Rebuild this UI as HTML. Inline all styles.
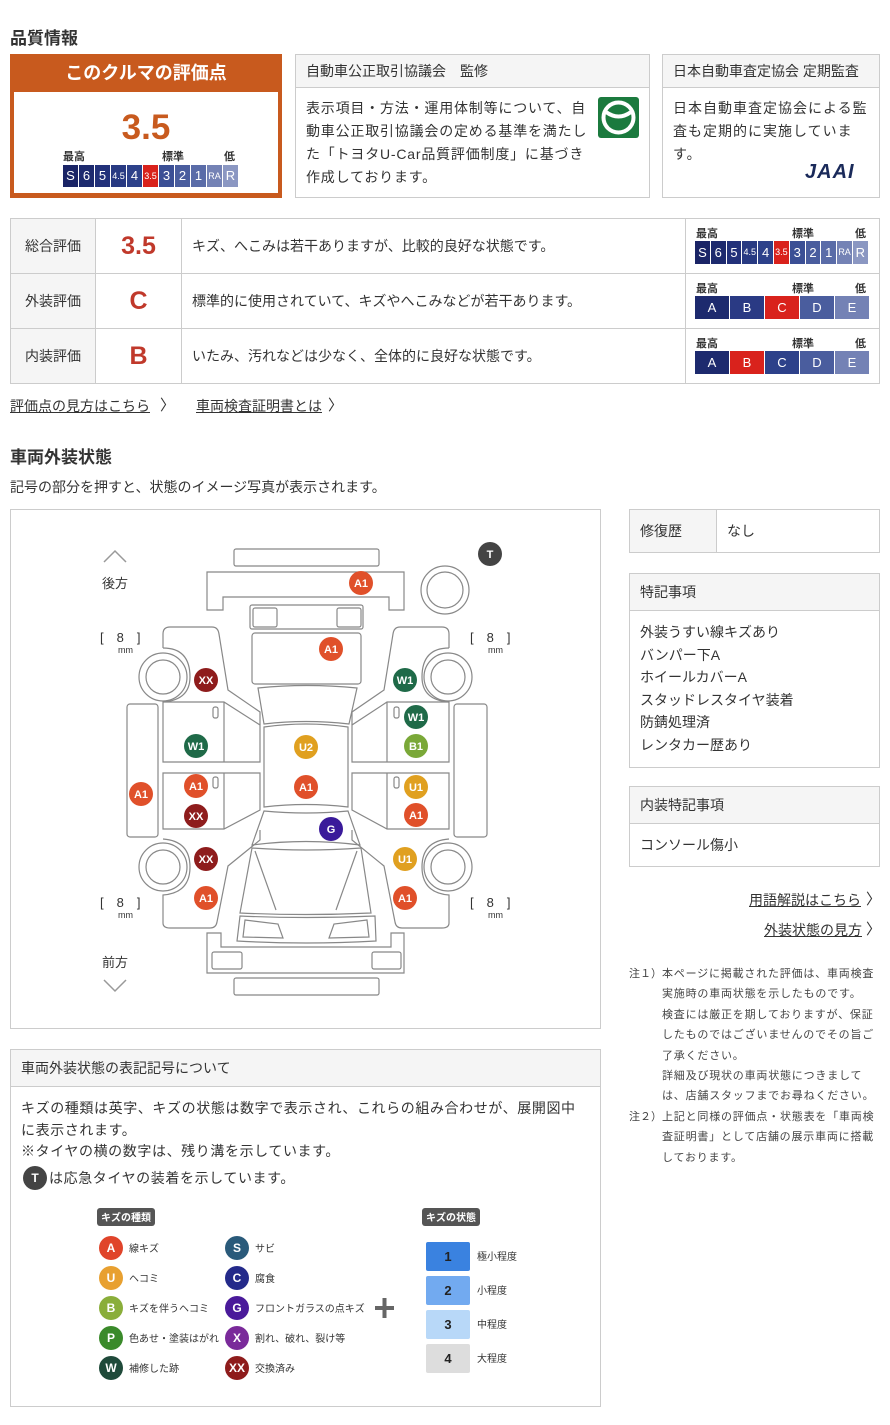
<!DOCTYPE html>
<html><head><meta charset="utf-8"><style>
*{margin:0;padding:0;box-sizing:border-box}
body{width:890px;height:1425px;background:#fff;font-family:"Liberation Sans","Noto Sans CJK JP",sans-serif;color:#333;position:relative;overflow:hidden}
.a{position:absolute}
.h2{font-size:17px;font-weight:bold;color:#333}
.box{position:absolute;border:1px solid #ccc}
.hd{background:#f5f5f5;border-bottom:1px solid #ccc;font-size:14px;padding-left:10px}
.t14{font-size:14px;line-height:23px;color:#333}
.sc{display:flex;gap:1px}
.sc div{color:#fff;text-align:center;font-size:13px}
.lbl{font-size:11px;font-weight:bold;color:#333}
.row{position:absolute;left:10px;width:870px;height:55px;border:1px solid #ccc;border-top:none}
.row .c1{position:absolute;left:0;top:0;width:85px;height:54px;background:#f5f5f5;border-right:1px solid #ccc;font-size:14px;line-height:54px;text-align:center}
.row .c2{position:absolute;left:85px;top:0;width:86px;height:54px;border-right:1px solid #ccc;font-size:25px;font-weight:bold;color:#c0392b;line-height:54px;text-align:center}
.row .c3{position:absolute;left:181px;top:0;font-size:14px;line-height:54px}
.row .c4{position:absolute;left:674px;top:0;width:195px;height:54px;border-left:1px solid #ccc}
.lk{font-size:14px;color:#333;text-decoration:underline}
</style></head><body>

<div class="a h2" style="left:10px;top:24px">品質情報</div>

<div class="a" style="left:10px;top:54px;width:272px;height:144px;background:#c85a1e">
 <div style="color:#fff;font-size:18px;font-weight:bold;text-align:center;line-height:38px">このクルマの評価点</div>
 <div class="a" style="left:4px;top:38px;width:264px;height:101px;background:#fff">
  <div class="a" style="left:0;width:264px;top:16px;text-align:center;font-size:35px;font-weight:bold;color:#c85a1e">3.5</div>
  <div class="a lbl" style="left:49px;top:56px">最高</div>
  <div class="a lbl" style="left:148px;top:56px">標準</div>
  <div class="a lbl" style="left:210px;top:56px">低</div>
  <div class="a sc" style="left:49px;top:73px;height:22px">
   <div style="width:15px;background:#1a2466;line-height:22px">S</div><div style="width:15px;background:#1d2a6e;line-height:22px">6</div><div style="width:15px;background:#22317a;line-height:22px">5</div><div style="width:15px;background:#283a82;line-height:22px;font-size:9px">4.5</div><div style="width:15px;background:#2d418a;line-height:22px">4</div><div style="width:15px;background:#d9221c;line-height:22px;font-size:9px">3.5</div><div style="width:15px;background:#3b4f95;line-height:22px">3</div><div style="width:15px;background:#4a5d9e;line-height:22px">2</div><div style="width:15px;background:#5a6ca8;line-height:22px">1</div><div style="width:15px;background:#7482b5;line-height:22px;font-size:9px">RA</div><div style="width:15px;background:#8b97c2;line-height:22px">R</div>
  </div>
 </div>
</div>

<div class="box" style="left:295px;top:54px;width:355px;height:144px">
 <div class="hd" style="height:33px;line-height:32px">自動車公正取引協議会　監修</div>
 <div class="a t14" style="left:10px;top:42px;width:285px;letter-spacing:0.8px">表示項目・方法・運用体制等について、自動車公正取引協議会の定める基準を満たした「トヨタU-Car品質評価制度」に基づき作成しております。</div>
 <svg class="a" style="left:302px;top:42px" width="41" height="41"><rect width="41" height="41" rx="3" fill="#1b7a3e"/><circle cx="20.5" cy="20.5" r="15" fill="none" stroke="#fff" stroke-width="4"/><path d="M8 15 Q20.5 24 33 15" fill="none" stroke="#fff" stroke-width="4"/></svg>
</div>

<div class="box" style="left:662px;top:54px;width:218px;height:144px">
 <div class="hd" style="height:33px;line-height:32px">日本自動車査定協会 定期監査</div>
 <div class="a t14" style="left:10px;top:42px;width:198px;letter-spacing:1px">日本自動車査定協会による監査も定期的に実施しています。</div>
 <div class="a" style="left:142px;top:106px;font-size:20px;font-weight:bold;font-style:italic;color:#1a2a5a;letter-spacing:1px">JAAI</div>
</div>

<div class="a" style="left:10px;top:218px;width:870px;border-top:1px solid #ccc"></div>
<div class="row" style="top:219px"><div class="c1">総合評価</div><div class="c2">3.5</div><div class="c3">キズ、へこみは若干ありますが、比較的良好な状態です。</div>
 <div class="c4">
  <div class="a lbl" style="left:10px;top:6px">最高</div><div class="a lbl" style="left:106px;top:6px">標準</div><div class="a lbl" style="left:169px;top:6px">低</div>
  <div class="a sc" style="left:9px;top:22px;height:23px">
   <div style="width:14.8px;background:#1a2466;line-height:23px">S</div><div style="width:14.8px;background:#1d2a6e;line-height:23px">6</div><div style="width:14.8px;background:#22317a;line-height:23px">5</div><div style="width:14.8px;background:#283a82;line-height:23px;font-size:9px">4.5</div><div style="width:14.8px;background:#2d418a;line-height:23px">4</div><div style="width:14.8px;background:#d9221c;line-height:23px;font-size:9px">3.5</div><div style="width:14.8px;background:#3b4f95;line-height:23px">3</div><div style="width:14.8px;background:#4a5d9e;line-height:23px">2</div><div style="width:14.8px;background:#5a6ca8;line-height:23px">1</div><div style="width:14.8px;background:#7482b5;line-height:23px;font-size:9px">RA</div><div style="width:14.8px;background:#8b97c2;line-height:23px">R</div>
  </div>
 </div>
</div>
<div class="row" style="top:274px"><div class="c1">外装評価</div><div class="c2">C</div><div class="c3">標準的に使用されていて、キズやへこみなどが若干あります。</div>
 <div class="c4">
  <div class="a lbl" style="left:10px;top:6px">最高</div><div class="a lbl" style="left:106px;top:6px">標準</div><div class="a lbl" style="left:169px;top:6px">低</div>
  <div class="a sc" style="left:9px;top:22px;height:23px">
   <div style="width:34px;background:#1d2a6e;line-height:23px">A</div><div style="width:34px;background:#2a3a84;line-height:23px">B</div><div style="width:34px;background:#d9221c;line-height:23px">C</div><div style="width:34px;background:#4a5d9e;line-height:23px">D</div><div style="width:34px;background:#7482b5;line-height:23px">E</div>
  </div>
 </div>
</div>
<div class="row" style="top:329px"><div class="c1">内装評価</div><div class="c2">B</div><div class="c3">いたみ、汚れなどは少なく、全体的に良好な状態です。</div>
 <div class="c4">
  <div class="a lbl" style="left:10px;top:6px">最高</div><div class="a lbl" style="left:106px;top:6px">標準</div><div class="a lbl" style="left:169px;top:6px">低</div>
  <div class="a sc" style="left:9px;top:22px;height:23px">
   <div style="width:34px;background:#1d2a6e;line-height:23px">A</div><div style="width:34px;background:#d9221c;line-height:23px">B</div><div style="width:34px;background:#2d418a;line-height:23px">C</div><div style="width:34px;background:#4a5d9e;line-height:23px">D</div><div style="width:34px;background:#7482b5;line-height:23px">E</div>
  </div>
 </div>
</div>

<div class="a lk" style="left:10px;top:396px">評価点の見方はこちら</div><div class="a" style="left:160px;top:394px;font-size:15px">〉</div>
<div class="a lk" style="left:196px;top:396px">車両検査証明書とは</div><div class="a" style="left:328px;top:394px;font-size:15px">〉</div>

<div class="a h2" style="left:10px;top:443px">車両外装状態</div>
<div class="a" style="left:10px;top:477px;font-size:14px">記号の部分を押すと、状態のイメージ写真が表示されます。</div>

<div class="box" style="left:10px;top:509px;width:591px;height:520px"></div>
<svg class="a" style="left:0;top:0" width="610" height="1030">
<g fill="none" stroke="#888" stroke-width="1.2">
 <rect x="234" y="549" width="145" height="17" rx="2"/>
 <path d="M207 572 H404 V610 H389 V597 H223 V610 H207 Z"/>
 <circle cx="445" cy="590" r="24"/><circle cx="445" cy="590" r="18"/>
 <rect x="250" y="605" width="113" height="24" rx="2"/>
 <rect x="253" y="608" width="24" height="19" rx="2"/><rect x="337" y="608" width="24" height="19" rx="2"/>
 <rect x="252" y="633" width="109" height="51" rx="3"/>
 <path d="M258 688 Q306 683 357 688 L349 724 Q306 719 264 724 Z"/>
 <path d="M264 727 Q306 721 348 727 V807 Q306 802 264 807 Z"/>
 <path d="M264 811 Q306 815 348 811 L360 845 Q306 838 252 845 Z"/>
 <path d="M252 848 Q306 852 361 848 L371 913 Q306 916 240 913 Z"/>
 <path d="M255 851 L276 910 M357 851 L336 910"/>
 <path d="M240 916 Q306 919 375 916 L376 941 Q306 945 237 941 Z"/>
 <path d="M245 920 L278 924 L283 938 L243 937 Z M367 920 L334 924 L329 938 L369 937 Z"/>
 <path d="M207 933 H221 V947 H391 V933 H404 V973 H207 Z"/>
 <rect x="212" y="952" width="30" height="17" rx="2"/><rect x="372" y="952" width="29" height="17" rx="2"/>
 <rect x="234" y="978" width="145" height="17" rx="2"/>
 <path d="M163 648 V634 Q163 627 170 627 H212 Q218 627 219 634 L228 690 L260 712 V725"/>
 <path d="M163 648 Q190 648 190 677 Q190 700 163 702"/>
 <path d="M163 839 Q190 841 190 867 Q190 893 163 895 V923 Q163 928 170 928 H210 Q216 928 217 922 L228 866 L260 840 V830"/>
 <circle cx="163" cy="677" r="24"/><circle cx="163" cy="677" r="17"/>
 <circle cx="163" cy="867" r="24"/><circle cx="163" cy="867" r="17"/>
 <rect x="127" y="704" width="31" height="133" rx="3"/>
 <path d="M163 702 H224 L260 725 V762 H163 Z M224 702 V762"/>
 <path d="M163 773 H260 V810 L224 829 H163 Z M224 773 V829"/>
 <rect x="213" y="707" width="5" height="11" rx="2"/><rect x="213" y="777" width="5" height="11" rx="2"/>
 <path d="M449 648 V634 Q449 627 442 627 H400 Q394 627 393 634 L384 690 L352 712 V725"/>
 <path d="M449 648 Q422 648 422 677 Q422 700 449 702"/>
 <path d="M449 839 Q422 841 422 867 Q422 893 449 895 V923 Q449 928 442 928 H402 Q396 928 395 922 L384 866 L352 840 V830"/>
 <circle cx="448" cy="677" r="24"/><circle cx="448" cy="677" r="17"/>
 <circle cx="448" cy="867" r="24"/><circle cx="448" cy="867" r="17"/>
 <rect x="454" y="704" width="33" height="133" rx="3"/>
 <path d="M449 702 H387 L352 725 V762 H449 Z M387 702 V762"/>
 <path d="M449 773 H352 V810 L387 829 H449 Z M387 773 V829"/>
 <rect x="394" y="707" width="5" height="11" rx="2"/><rect x="394" y="777" width="5" height="11" rx="2"/>
 <path d="M104 562 L115 551 L126 562 M104 980 L115 991 L126 980" stroke="#999" stroke-width="1.5"/>
</g>
<g font-size="13" fill="#333">
 <text x="102" y="588">後方</text><text x="102" y="967">前方</text>
 <text x="100" y="642">[　8　]</text><text x="118" y="653" font-size="9">mm</text>
 <text x="470" y="642">[　8　]</text><text x="488" y="653" font-size="9">mm</text>
 <text x="100" y="907">[　8　]</text><text x="118" y="918" font-size="9">mm</text>
 <text x="470" y="907">[　8　]</text><text x="488" y="918" font-size="9">mm</text>
</g>
<g font-size="11" fill="#fff" text-anchor="middle" font-weight="bold">
 <circle cx="490" cy="554" r="12" fill="#444"/><text x="490" y="558">T</text>
 <circle cx="361" cy="583" r="12" fill="#e0502a"/><text x="361" y="587">A1</text>
 <circle cx="331" cy="649" r="12" fill="#e0502a"/><text x="331" y="653">A1</text>
 <circle cx="206" cy="680" r="12" fill="#8e1c1c"/><text x="206" y="684">XX</text>
 <circle cx="405" cy="680" r="12" fill="#1f6a48"/><text x="405" y="684">W1</text>
 <circle cx="196" cy="746" r="12" fill="#1f6a48"/><text x="196" y="750">W1</text>
 <circle cx="306" cy="747" r="12" fill="#e0a020"/><text x="306" y="751">U2</text>
 <circle cx="416" cy="717" r="12" fill="#1f6a48"/><text x="416" y="721">W1</text>
 <circle cx="416" cy="746" r="12" fill="#7aa838"/><text x="416" y="750">B1</text>
 <circle cx="141" cy="794" r="12" fill="#e0502a"/><text x="141" y="798">A1</text>
 <circle cx="196" cy="786" r="12" fill="#e0502a"/><text x="196" y="790">A1</text>
 <circle cx="196" cy="816" r="12" fill="#8e1c1c"/><text x="196" y="820">XX</text>
 <circle cx="306" cy="787" r="12" fill="#e0502a"/><text x="306" y="791">A1</text>
 <circle cx="416" cy="787" r="12" fill="#e0a020"/><text x="416" y="791">U1</text>
 <circle cx="416" cy="815" r="12" fill="#e0502a"/><text x="416" y="819">A1</text>
 <circle cx="331" cy="829" r="12" fill="#3a1a9a"/><text x="331" y="833">G</text>
 <circle cx="206" cy="859" r="12" fill="#8e1c1c"/><text x="206" y="863">XX</text>
 <circle cx="405" cy="859" r="12" fill="#e0a020"/><text x="405" y="863">U1</text>
 <circle cx="206" cy="898" r="12" fill="#e0502a"/><text x="206" y="902">A1</text>
 <circle cx="405" cy="898" r="12" fill="#e0502a"/><text x="405" y="902">A1</text>
</g>
</svg>

<div class="box" style="left:629px;top:509px;width:251px;height:44px">
 <div class="a" style="left:0;top:0;width:87px;height:42px;background:#f5f5f5;border-right:1px solid #ccc;font-size:14px;line-height:42px;padding-left:10px">修復歴</div>
 <div class="a" style="left:97px;top:0;font-size:14px;line-height:42px">なし</div>
</div>
<div class="box" style="left:629px;top:573px;width:251px;height:195px">
 <div class="hd" style="height:37px;line-height:36px">特記事項</div>
 <div class="a" style="left:10px;top:47px;font-size:14px;line-height:22.5px">外装うすい線キズあり<br>バンパー下A<br>ホイールカバーA<br>スタッドレスタイヤ装着<br>防錆処理済<br>レンタカー歴あり</div>
</div>
<div class="box" style="left:629px;top:786px;width:251px;height:81px">
 <div class="hd" style="height:37px;line-height:36px">内装特記事項</div>
 <div class="a" style="left:10px;top:47px;font-size:14px;line-height:22px">コンソール傷小</div>
</div>
<div class="a lk" style="left:749px;top:890px">用語解説はこちら</div><div class="a" style="left:866px;top:888px;font-size:15px">〉</div>
<div class="a lk" style="left:764px;top:920px">外装状態の見方</div><div class="a" style="left:866px;top:918px;font-size:15px">〉</div>

<div class="a" style="left:629px;top:964px;width:255px;font-size:11px;line-height:20.4px;color:#444;letter-spacing:0.8px">
 <div style="display:flex"><span style="width:33px;flex:none;letter-spacing:0">注１）</span><span style="width:216px">本ページに掲載された評価は、車両検査実施時の車両状態を示したものです。<br>検査には厳正を期しておりますが、保証したものではございませんのでその旨ご了承ください。<br>詳細及び現状の車両状態につきましては、店舗スタッフまでお尋ねください。</span></div>
 <div style="display:flex"><span style="width:33px;flex:none;letter-spacing:0">注２）</span><span style="width:216px">上記と同様の評価点・状態表を「車両検査証明書」として店舗の展示車両に搭載しております。</span></div>
</div>

<div class="box" style="left:10px;top:1049px;width:591px;height:358px">
 <div class="hd" style="height:37px;line-height:36px">車両外装状態の表記記号について</div>
 <div class="a" style="left:10px;top:48px;width:565px;font-size:14px;line-height:21.5px;letter-spacing:0.6px">キズの種類は英字、キズの状態は数字で表示され、これらの組み合わせが、展開図中に表示されます。<br>※タイヤの横の数字は、残り溝を示しています。</div>
 <div class="a" style="left:12px;top:116px;width:24px;height:24px;border-radius:50%;background:#444;color:#fff;font-size:12px;font-weight:bold;text-align:center;line-height:24px">T</div>
 <div class="a" style="left:38px;top:118px;font-size:14px;letter-spacing:0.6px">は応急タイヤの装着を示しています。</div>
</div>
<svg class="a" style="left:0;top:1195px" width="610" height="200">
 <rect x="97" y="13" width="58" height="18" rx="3" fill="#555"/><text x="126" y="26" font-size="10" fill="#fff" text-anchor="middle" font-weight="bold">キズの種類</text>
 <rect x="422" y="13" width="58" height="18" rx="3" fill="#555"/><text x="451" y="26" font-size="10" fill="#fff" text-anchor="middle" font-weight="bold">キズの状態</text>
 <g font-size="12" font-weight="bold" fill="#fff" text-anchor="middle">
  <circle cx="111" cy="53" r="12" fill="#e0442a"/><text x="111" y="57">A</text>
  <circle cx="111" cy="83" r="12" fill="#e8a030"/><text x="111" y="87">U</text>
  <circle cx="111" cy="113" r="12" fill="#8aae3a"/><text x="111" y="117">B</text>
  <circle cx="111" cy="143" r="12" fill="#3a8a2a"/><text x="111" y="147">P</text>
  <circle cx="111" cy="173" r="12" fill="#1f4a3a"/><text x="111" y="177">W</text>
  <circle cx="237" cy="53" r="12" fill="#2a5a7a"/><text x="237" y="57">S</text>
  <circle cx="237" cy="83" r="12" fill="#242a8a"/><text x="237" y="87">C</text>
  <circle cx="237" cy="113" r="12" fill="#4a1a9a"/><text x="237" y="117">G</text>
  <circle cx="237" cy="143" r="12" fill="#7a2a9a"/><text x="237" y="147">X</text>
  <circle cx="237" cy="173" r="12" fill="#8e1c1c"/><text x="237" y="177">XX</text>
 </g>
 <g font-size="10" fill="#333">
  <text x="129" y="57">線キズ</text><text x="129" y="87">ヘコミ</text><text x="129" y="117">キズを伴うヘコミ</text><text x="129" y="147">色あせ・塗装はがれ</text><text x="129" y="177">補修した跡</text>
  <text x="255" y="57">サビ</text><text x="255" y="87">腐食</text><text x="255" y="117">フロントガラスの点キズ</text><text x="255" y="147">割れ、破れ、裂け等</text><text x="255" y="177">交換済み</text>
  <text x="477" y="65">極小程度</text><text x="477" y="99">小程度</text><text x="477" y="133">中程度</text><text x="477" y="167">大程度</text>
 </g>
 <path d="M375 113 H394 M384.5 103 V123" stroke="#666" stroke-width="4"/>
 <g font-size="13" font-weight="bold" fill="#222" text-anchor="middle">
  <rect x="426" y="47" width="44" height="29" rx="2" fill="#3a82e0"/><text x="448" y="66">1</text>
  <rect x="426" y="81" width="44" height="29" rx="2" fill="#72aaf0"/><text x="448" y="100">2</text>
  <rect x="426" y="115" width="44" height="29" rx="2" fill="#b8d8f8"/><text x="448" y="134">3</text>
  <rect x="426" y="149" width="44" height="29" rx="2" fill="#ddd"/><text x="448" y="168">4</text>
 </g>
</svg>
</body></html>
